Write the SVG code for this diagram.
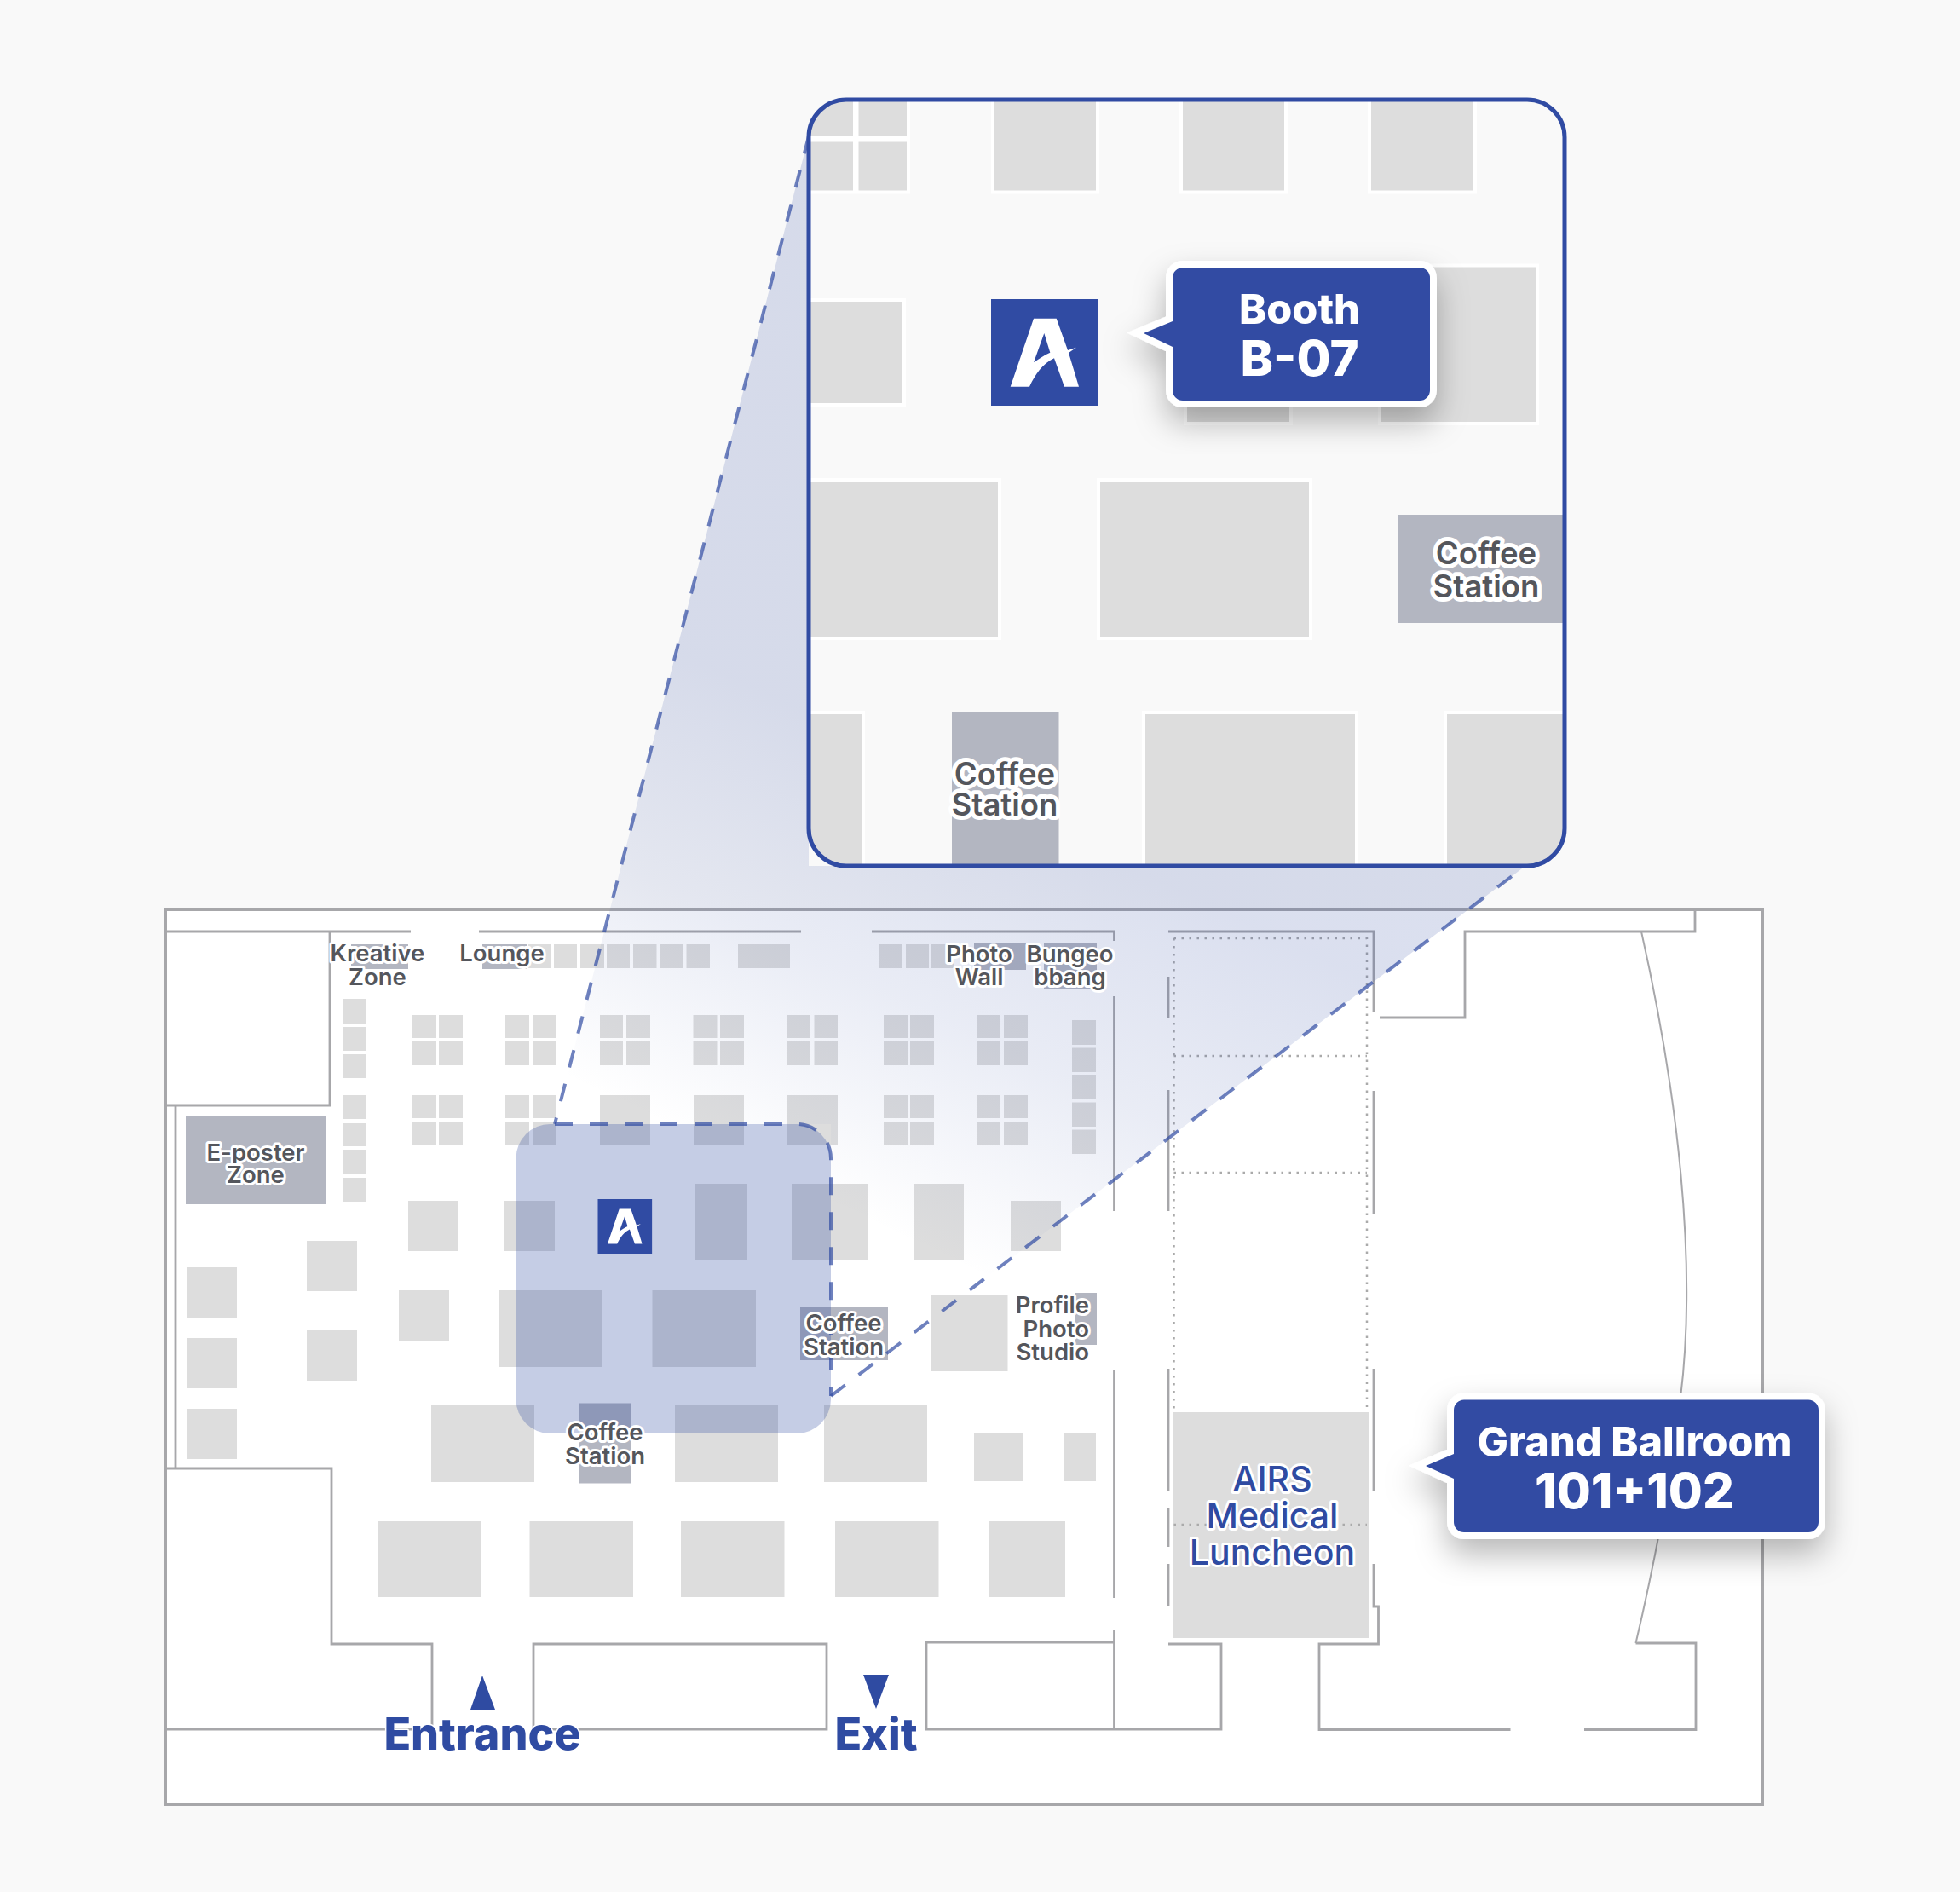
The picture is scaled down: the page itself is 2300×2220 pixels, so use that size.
<svg xmlns="http://www.w3.org/2000/svg" xmlns:xlink="http://www.w3.org/1999/xlink" width="2300" height="2220" viewBox="0 0 2300 2220">
<style>
text{font-family:"Inter","Liberation Sans",sans-serif;text-anchor:middle;paint-order:stroke;stroke-linejoin:round}
.w{fill:none;stroke:#a7a7aa;stroke-width:2.800}
.wo{fill:none;stroke:#a7a7aa;stroke-width:4}
.b{fill:#dddddd}
.c{fill:#b3b6c1}
.ib{fill:#dddddd;stroke:#fff;stroke-width:8;paint-order:stroke}
.ic{fill:#b3b6c1}
.dot{fill:none;stroke:#aaa;stroke-width:2.500;stroke-dasharray:2.500 6.500}
.lab{font-size:27.500px;font-weight:600;fill:#54565c;stroke:#fff;stroke-width:6}
.ilab{font-size:36.500px;font-weight:600;fill:#54565c;stroke:#fff;stroke-width:10}
.air{font-size:41px;font-weight:500;fill:#2f4ba2;stroke:#fff;stroke-width:6}
.nav{font-size:52px;font-weight:800;fill:#2f4ba2;stroke:#fff;stroke-width:3}
.t1{font-size:48.500px;font-weight:800;fill:#fff}
.t2{font-size:58px;font-weight:800;fill:#fff}
.dash{fill:none;stroke:#304ba3;stroke-opacity:.7;stroke-width:4;stroke-dasharray:21 20}
.call{fill:#304ba3;stroke:#fff;stroke-width:16;stroke-linejoin:miter;stroke-miterlimit:10;paint-order:stroke;filter:url(#sh)}
</style>
<defs>
<linearGradient id="cone" gradientUnits="userSpaceOnUse" x1="870" y1="1363" x2="1089" y2="904">
<stop offset="0" stop-color="#304ba3" stop-opacity="0"/>
<stop offset=".5" stop-color="#304ba3" stop-opacity=".105"/>
<stop offset="1" stop-color="#304ba3" stop-opacity=".175"/>
</linearGradient>
<filter id="sh" x="-30%" y="-30%" width="160%" height="170%">
<feDropShadow dx="0" dy="18" stdDeviation="18" flood-color="#000" flood-opacity=".28"/>
</filter>
<clipPath id="ic"><rect x="949" y="117" width="887" height="899" rx="44"/></clipPath>
<g id="logo">
<rect width="126" height="125" fill="#304ba3"/>
<path fill="#fff" fill-rule="evenodd" d="M22.700 102.700L50 22.700H76.700L90 60 100 56.700 91 63 103 102.700H86L74 69.300C60 76 52 88 45 102.700ZM62.300 40L50 74.300C56 70 62 66 69.300 62.700Z"/>
</g>
</defs>
<rect width="2300" height="2220" fill="#f9f9f9"/>

<g id="floor-plan">
<rect x="194" y="1067" width="1874" height="1050" fill="#fff"/>
</g>

<g id="booths">
<rect class="c" x="412" y="1108" width="67" height="29"/>
<rect class="c" x="566" y="1108" width="52" height="29"/>
<path class="b" d="M620 1108h26.500v28h-26.500zM650 1108h27v28h-27zM681 1108h28v28h-28zM712 1108h27v28h-27zM743 1108h27.500v28h-27.500zM774 1108h28v28h-28zM805.500 1108h27.500v28h-27.500zM866 1108h61v28h-61zM1032 1108h26v28h-26zM1063 1108h27v28h-27zM1093 1108h27v28h-27z"/>
<rect class="c" x="1143" y="1107" width="61" height="31"/>
<rect class="c" x="1225" y="1107" width="62" height="53"/>
<path class="b" d="M402 1172h28v29h-28zM402 1205h28v28h-28zM402 1237h28v28h-28zM402 1285h28v28h-28zM402 1318h28v27h-28zM402 1349h28v29h-28zM402 1382h28v28h-28z"/>
<path class="b" d="M1258 1197h28v29h-28zM1258 1229.500h28v28.500h-28zM1258 1261h28v29h-28zM1258 1293.500h28v28.500h-28zM1258 1325.500h28v28.500h-28z"/>
<g id="q">
<path class="b" d="M484 1191h28v27h-28zM515 1191h28v27h-28zM484 1222h28v28h-28zM515 1222h28v28h-28z"/>
<path class="b" d="M593 1191h28v27h-28zM625 1191h28v27h-28zM593 1222h28v28h-28zM625 1222h28v28h-28z"/>
<path class="b" d="M704 1191h27v27h-27zM735 1191h28v27h-28zM704 1222h27v28h-27zM735 1222h28v28h-28z"/>
<path class="b" d="M813.500 1191h28v27h-28zM845 1191h28v27h-28zM813.500 1222h28v28h-28zM845 1222h28v28h-28z"/>
<path class="b" d="M923 1191h28v27h-28zM955.500 1191h27.500v27h-27.500zM923 1222h28v28h-28zM955.500 1222h27.500v28h-27.500z"/>
<path class="b" d="M1037 1191h28v27h-28zM1068 1191h28v27h-28zM1037 1222h28v28h-28zM1068 1222h28v28h-28z"/>
<path class="b" d="M1146 1191h28v27h-28zM1178 1191h28v27h-28zM1146 1222h28v28h-28zM1178 1222h28v28h-28z"/>
<path class="b" d="M484 1285h28v27h-28zM515 1285h28v27h-28zM484 1317h28v27h-28zM515 1317h28v27h-28z"/>
<path class="b" d="M593 1285h28v27h-28zM625 1285h28v27h-28zM593 1317h28v27h-28zM625 1317h28v27h-28z"/>
<path class="b" d="M1037 1285h28v27h-28zM1068 1285h28v27h-28zM1037 1317h28v27h-28zM1068 1317h28v27h-28z"/>
<path class="b" d="M1146 1285h28v27h-28zM1178 1285h28v27h-28zM1146 1317h28v27h-28zM1178 1317h28v27h-28z"/>
</g>
<rect class="b" x="704" y="1285" width="59" height="59"/>
<rect class="b" x="814" y="1285" width="59" height="59"/>
<rect class="b" x="923" y="1285" width="60" height="59"/>
<rect class="c" x="218" y="1309" width="164" height="104"/>
<rect class="b" x="479" y="1409" width="58" height="59"/>
<rect class="b" x="592" y="1409" width="59" height="59"/>
<rect class="b" x="816" y="1389" width="60" height="90"/>
<rect class="b" x="929" y="1389" width="90" height="90"/>
<rect class="b" x="1072" y="1389" width="59" height="90"/>
<rect class="b" x="1186" y="1409" width="59" height="59"/>
<rect class="b" x="360" y="1456" width="59" height="59"/>
<rect class="b" x="219" y="1487" width="59" height="59"/>
<rect class="b" x="468" y="1514" width="59" height="59"/>
<rect class="b" x="585" y="1514" width="121" height="90"/>
<rect class="b" x="765.500" y="1514" width="121.500" height="90"/>
<rect class="c" x="939" y="1533" width="103" height="63"/>
<rect class="b" x="1093" y="1519" width="89.500" height="90"/>
<rect class="c" x="1262" y="1517" width="25" height="61"/>
<rect class="b" x="360" y="1561" width="59" height="59"/>
<rect class="b" x="219" y="1570" width="59" height="59"/>
<rect class="b" x="219" y="1653" width="59" height="59"/>
<rect class="b" x="506" y="1649" width="121" height="90"/>
<rect class="c" x="679" y="1646.500" width="62" height="94"/>
<rect class="b" x="792" y="1649" width="121" height="90"/>
<rect class="b" x="967" y="1649" width="121" height="90"/>
<rect class="b" x="1143" y="1681" width="58" height="57"/>
<rect class="b" x="1248" y="1681" width="38" height="57"/>
<rect class="b" x="444" y="1785" width="121" height="89"/>
<rect class="b" x="621.500" y="1785" width="121.500" height="89"/>
<rect class="b" x="799" y="1785" width="121.500" height="89"/>
<rect class="b" x="980" y="1785" width="121.500" height="89"/>
<rect class="b" x="1160" y="1785" width="90" height="89"/>
<rect class="b" x="1376" y="1657" width="231" height="265"/>
</g>

<g id="walls">
<rect class="wo" x="194" y="1067" width="1874" height="1050"/>
<path class="w" d="M194 1093H482M562 1093H940M1023 1093H1307.500V1104M1307.500 1169V1421M1307.500 1608V1875M1307.500 1912.500V2029"/>
<path class="w" d="M1371 1093H1612V1188M1371 1146V1195M1371 1279V1421M1371 1606V1750M1371 1769.500V1815M1371 1835V1885"/>
<path class="w" d="M1612 1280V1424M1612 1606V1750M1612 1835V1885H1617.500V1929H1548V2029.500H1772.500M1859 2029.500H1990V1928H1919.500"/>
<path class="w" d="M1989 1067V1093H1719V1194H1619"/>
<path class="w" style="stroke-width:2" d="M1926 1093C1968 1280 1992 1480 1972 1640C1962 1730 1938 1850 1919.500 1928"/>
<path class="w" d="M194 1297H387V1093M206 1297V1723"/>
<path class="w" d="M194 1723H389V1929H507V2029H194"/>
<path class="w" d="M626 1929H970V2029H626Z"/>
<path class="w" d="M1307.500 1927H1087V2029H1433V1929H1371"/>
<path class="dot" d="M1377.500 1101H1604V1653M1377.500 1101V1653M1377.500 1239H1604M1377.500 1376H1604M1377.500 1789H1604"/>
</g>

<g id="zoom-cone">
<path fill="url(#cone)" d="M949 160L651 1319H975V1638L1790 1016H949Z"/>
<path class="dash" d="M949 160L651 1319M975 1638L1790 1016"/>
</g>

<g id="zoom-box">
<rect x="605.500" y="1319" width="369.500" height="363" rx="40" fill="#304ba3" fill-opacity=".28"/>
<path class="dash" d="M651 1319H935A40 40 0 0 1 975 1359V1638"/>
</g>

<g id="plan-labels">
<use xlink:href="#logo" href="#logo" transform="translate(701.500 1407) scale(.505 .512)"/>
<text class="lab"><tspan x="443" y="1127.500">Kreative</tspan><tspan x="443" y="1156">Zone</tspan></text>
<text class="lab" x="589" y="1127.500">Lounge</text>
<text class="lab"><tspan x="1149" y="1128.500">Photo</tspan><tspan x="1149" y="1156">Wall</tspan></text>
<text class="lab"><tspan x="1255.500" y="1128.500">Bungeo</tspan><tspan x="1255.500" y="1156">bbang</tspan></text>
<text class="lab"><tspan x="300" y="1362">E-poster</tspan><tspan x="300" y="1388">Zone</tspan></text>
<text class="lab" style="text-anchor:end"><tspan x="1278" y="1540.500">Profile</tspan><tspan x="1278" y="1568.500">Photo</tspan><tspan x="1278" y="1596">Studio</tspan></text>
<text class="lab"><tspan x="990" y="1562">Coffee</tspan><tspan x="990" y="1590">Station</tspan></text>
<text class="lab"><tspan x="710" y="1690">Coffee</tspan><tspan x="710" y="1718">Station</tspan></text>
<text class="air"><tspan x="1493" y="1750">AIRS</tspan><tspan x="1493" y="1793">Medical</tspan><tspan x="1493" y="1836">Luncheon</tspan></text>
</g>

<g id="entrance">
<polygon points="566,1966 581,2006 552,2006" fill="#2f4ba2"/>
<text class="nav" x="566" y="2053">Entrance</text>
</g>
<g id="exit">
<polygon points="1013,1965 1043,1965 1028,2005" fill="#2f4ba2"/>
<text class="nav" x="1028" y="2053">Exit</text>
</g>

<g id="inset">
<rect x="949" y="117" width="887" height="899" rx="44" fill="#f9f9f9"/>
<g clip-path="url(#ic)">
<path class="ib" d="M930 100H1001V159H930ZM1007.500 100H1064V159H1007.500ZM930 166.500H1001V223.500H930ZM1007.500 166.500H1064V223.500H1007.500Z"/>
<rect class="ib" x="1167" y="100" width="119" height="123.500"/>
<rect class="ib" x="1388" y="100" width="119" height="123.500"/>
<rect class="ib" x="1609" y="100" width="120" height="123.500"/>
<rect class="ib" x="930" y="354" width="129" height="119"/>
<rect class="ib" x="1393" y="376" width="120" height="119"/>
<rect class="ib" x="1621" y="313.500" width="181" height="181.500"/>
<rect class="ib" x="930" y="565" width="241" height="182"/>
<rect class="ib" x="1291" y="565" width="245" height="182"/>
<rect class="ic" x="1641" y="604" width="200" height="127"/>
<rect class="ib" x="930" y="838" width="81" height="190"/>
<rect class="ic" x="1117" y="835" width="125.500" height="190"/>
<rect class="ib" x="1344" y="838" width="246" height="190"/>
<rect class="ib" x="1698" y="838" width="150" height="190"/>
<use xlink:href="#logo" href="#logo" transform="translate(1163 351)"/>
<text class="ilab"><tspan x="1744" y="662">Coffee</tspan><tspan x="1744" y="700.500">Station</tspan></text>
<text class="ilab"><tspan x="1179" y="921">Coffee</tspan><tspan x="1179" y="957">Station</tspan></text>
</g>
<rect x="949" y="117" width="887" height="899" rx="44" fill="none" stroke="#304ba3" stroke-width="5"/>
</g>

<g id="callout-booth">
<path class="call" d="M1388 314H1666A12 12 0 0 1 1678 326V458A12 12 0 0 1 1666 470H1388A12 12 0 0 1 1376 458V407L1342 391L1376 377V326A12 12 0 0 1 1388 314Z"/>
<text class="t1" x="1525" y="380">Booth</text>
<text class="t2" x="1525" y="441">B-07</text>
</g>

<g id="callout-ballroom">
<path class="call" d="M1718 1642.500H2122A12 12 0 0 1 2134 1654.500V1786A12 12 0 0 1 2122 1798H1718A12 12 0 0 1 1706 1786V1735L1673 1720L1706 1706V1654.500A12 12 0 0 1 1718 1642.500Z"/>
<text class="t1" x="1918" y="1709">Grand Ballroom</text>
<text class="t2" x="1918" y="1770">101+102</text>
</g>
</svg>
